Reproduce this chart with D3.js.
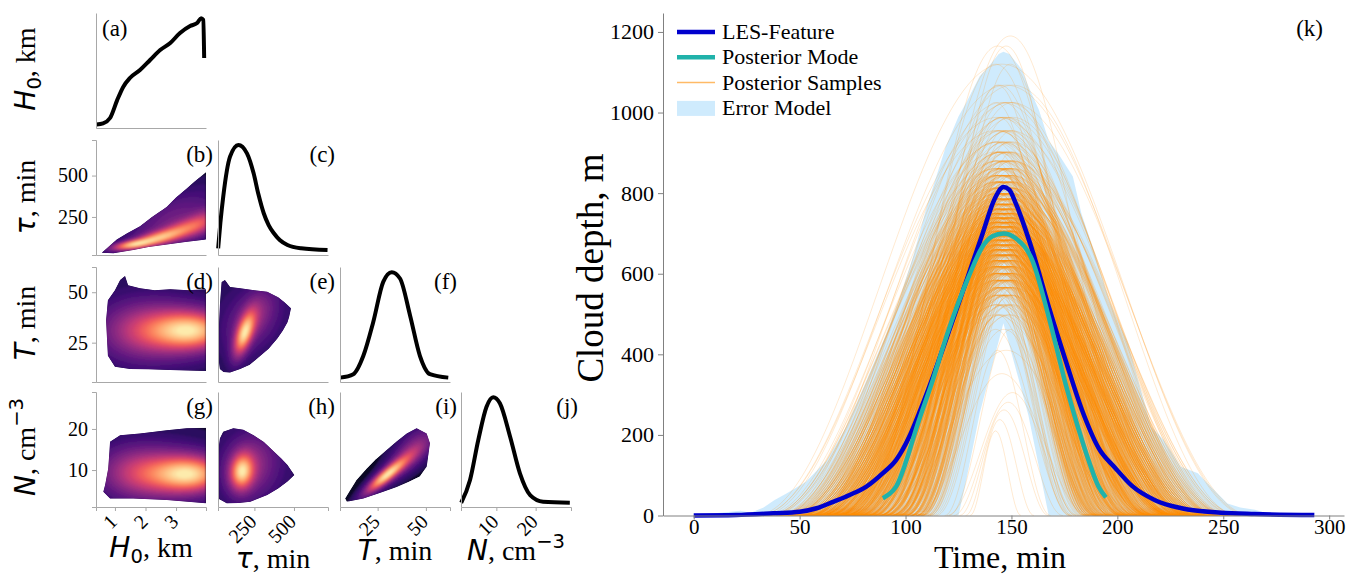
<!DOCTYPE html>
<html>
<head>
<meta charset="utf-8">
<script src="https://cdn.jsdelivr.net/npm/d3@7"></script>
<style>
body { margin: 0; background: #fff; }
svg { display: block; }
text { font-family: "Liberation Serif", "Times New Roman", serif; }
</style>
</head>
<body>
<svg id="fig" width="1349" height="575"></svg>
<script>

// ---------- corner plot: variables ----------
const varDomains = [[0.38, 3.98], [20, 715], [5.5, 62.5], [1, 29]]
const varTicks = [[1, 2, 3], [250, 500], [25, 50], [10, 20]]
const panelLetters = [['a'], ['b', 'c'], ['d', 'e', 'f'], ['g', 'h', 'i', 'j']]

// marginal densities, [value, relative height]
const margH0 = [[0.40, 0.03], [0.61, 0.04], [0.84, 0.087], [1.07, 0.24], [1.27, 0.357], [1.49, 0.435], [1.82, 0.504], [2.15, 0.591], [2.48, 0.678], [2.81, 0.739], [3.13, 0.826], [3.46, 0.887], [3.69, 0.913], [3.82, 0.955], [3.89, 0.94], [3.92, 0.609]]
const margTau = [[21, 0.058], [35, 0.28], [53, 0.507], [96, 0.855], [149, 0.957], [203, 0.884], [245, 0.71], [275, 0.53], [309, 0.363], [340, 0.26], [373, 0.189], [410, 0.13], [459, 0.087], [545, 0.058], [712, 0.043]]
const margT = [[5.6, 0.038], [12.4, 0.068], [17.6, 0.228], [22.7, 0.52], [27.9, 0.871], [32.3, 0.955], [36.6, 0.9], [41.8, 0.579], [46.9, 0.228], [52.1, 0.068], [61.6, 0.038]]
const margN = [[1.05, 0.037], [3.3, 0.235], [5.4, 0.583], [7.5, 0.872], [9.2, 0.955], [10.9, 0.902], [13.5, 0.611], [16.0, 0.293], [18.6, 0.104], [21.9, 0.046], [28.7, 0.037]]

// joint densities: outline of the sampled region and hot spots [cx, cy, sx, sy, rho, weight]
const outlineB = [[0.57, 34], [0.8, 72], [1.06, 113], [1.4, 152], [1.82, 193], [2.2, 248], [2.45, 280], [2.55, 292], [2.70, 312], [3.0, 368], [3.35, 422], [3.6, 462], [3.79, 491], [3.98, 521], [3.98, 113], [3.3, 98], [2.70, 84], [2.1, 68], [1.60, 50], [0.95, 30]]
const blobsB = [[1.5, 80, 0.45, 22, 0.6, 1], [2.3, 118, 0.5, 35, 0.6, 0.85], [3.1, 165, 0.5, 50, 0.6, 0.7], [3.9, 215, 0.45, 65, 0.5, 0.6], [2.8, 250, 1.0, 120, 0.7, 0.3]]

const outlineD = [[0.71, 36], [0.77, 46], [1.0, 51], [1.17, 56], [1.33, 58], [1.43, 53.5], [1.82, 52], [2.3, 51], [2.81, 51.5], [3.4, 51], [3.98, 51.5], [3.98, 11], [3.4, 11.2], [2.81, 11.5], [2.1, 11.8], [1.5, 12], [1.0, 13], [0.77, 18.5], [0.74, 27]]
const blobsD = [[3.7, 31, 0.8, 6.5, 0, 1], [2.7, 31, 0.9, 8, 0, 0.6], [1.6, 31, 0.9, 10, 0, 0.35], [2.5, 31, 1.5, 16, 0, 0.15]]

const outlineE = [[43, 55.1], [64, 56], [96, 52.6], [160, 52], [250, 51], [331, 50.2], [400, 47.5], [438, 45.2], [481, 42], [470, 38], [459, 35.1], [430, 31], [395, 27], [340, 22], [288, 18.5], [220, 14], [160, 12], [96, 10.2], [55, 10.5], [32, 12], [21, 18.5], [24, 30], [32, 43.5]]
const blobsE = [[185, 29, 45, 7.5, 0.6, 1], [250, 38, 90, 9, 0.5, 0.3], [230, 36, 170, 14, 0.2, 0.2]]

const outlineG = [[0.84, 16.9], [1.17, 18.5], [1.82, 18.9], [2.70, 19.7], [3.35, 20.2], [3.98, 20.3], [3.98, 1.9], [2.70, 2.7], [1.60, 3.1], [0.84, 3.1], [0.62, 4.7], [0.68, 6.4], [0.78, 10.4], [0.82, 14.5]]
const blobsG = [[3.6, 9, 0.75, 3, 0, 1], [2.6, 9, 0.9, 3.8, 0, 0.6], [1.5, 9.5, 0.8, 4.5, 0, 0.35], [2.5, 10, 1.5, 6, 0, 0.15]]

const outlineH = [[53, 19.3], [117, 20.2], [180, 19.8], [245, 18.5], [310, 16.8], [373, 14.5], [420, 12.8], [459, 11.2], [502, 8.8], [459, 7.2], [400, 5.5], [331, 3.9], [224, 2.3], [150, 2.0], [75, 1.9], [21, 3.1], [20, 9], [21, 14.5], [32, 17.7]]
const blobsH = [[170, 9.6, 50, 3, 0.1, 1], [220, 11, 110, 5, 0.2, 0.3], [240, 11, 170, 7, 0, 0.2]]

const outlineI = [[9.0, 2.3], [17.6, 3.1], [26, 4.4], [34.9, 5.9], [41, 7.1], [46.9, 8.4], [50.4, 10.8], [52.1, 16.5], [50.4, 18.9], [45.2, 20.2], [40.1, 18.9], [35, 17], [29.7, 14.9], [24, 12.6], [19.3, 10.4], [14, 7.6], [10.7, 5.1], [8.1, 3.1]]
const blobsI = [[28.5, 8.3, 7, 2.8, 0.9, 1], [36, 11, 9, 3.6, 0.85, 0.4], [44, 15.5, 8, 3.8, 0.6, 0.35]]

// ---------- right panel: cloud depth ----------
const lesTime = [0, 20, 37.6, 50, 58, 65.8, 73.6, 81.5, 89.3, 95.6, 101.8, 107, 113, 120, 128.6, 136.4, 142, 146.2, 149, 152, 159.8, 167.6, 175.5, 183.3, 191.1, 199, 206.8, 217.8, 230.3, 249, 264.8, 293]
const lesDepth = [0, 1, 5.5, 9.4, 18, 34, 51, 71.5, 105, 138, 196, 262, 345, 450, 580, 700, 785, 815, 808, 775, 659, 518, 386, 262, 168, 118, 74, 38, 18, 7, 3.7, 1]

const modeTime = [89.3, 92, 95.6, 100, 105, 112.8, 120, 130, 136.3, 141, 146.2, 152, 159.8, 167.6, 175.5, 183.3, 187, 191.1, 194.6]
const modeDepth = [43, 52, 72, 130, 215, 335, 455, 595, 667, 693, 700, 688, 634, 493, 328, 187, 128, 72, 45]

const bandTime = [0, 5, 9, 15, 22, 27, 33, 38, 44, 53, 63, 72, 81, 91, 97, 104, 110, 119, 125, 128.5, 135, 138, 144, 146.2, 149, 155, 158, 163, 167.6, 172, 179, 183, 190, 196, 205, 216, 222, 230, 238, 244, 252, 258, 265, 271, 275]
const bandUpper = [0, 2, 5, 8, 12, 7, 20, 38, 55, 84, 138, 220, 328, 452, 535, 650, 766, 915, 990, 1023, 1090, 1106, 1145, 1151, 1145, 1106, 1065, 1006, 930, 899, 841, 750, 640, 535, 427, 220, 187, 121, 105, 72, 30, 20, 14, 5, 0]
const bandLower = [0, 0, 0, 0, 0, 0, 0, 0, 0, 0, 0, 0, 0, 0, 0, 0, 0, 0, 0, 83, 253, 313, 433, 477, 423, 307, 249, 120, 0, 0, 0, 0, 0, 0, 0, 0, 0, 0, 0, 0, 0, 0, 0, 0, 0]

// posterior samples: peak depth, half duration and how many samples look alike
const samplePeak = [210, 238, 262, 281, 305, 352, 410, 462, 498, 523, 547, 566, 584, 601, 618, 633, 647, 660, 672, 684, 695, 706, 717, 728, 739, 750, 761, 773, 786, 799, 813, 828, 844, 861, 880, 902, 927, 955, 988, 1025, 1068, 1120, 1165, 1190]
const sampleHalfBase = [24, 26, 28, 30, 33, 40, 50, 58, 62, 66, 70, 72, 74, 76, 78, 80, 81, 82, 83, 84, 85, 86, 87, 88, 89, 90, 91, 92, 93, 94, 95, 96, 97, 98, 99, 100, 101, 102, 103, 104, 105, 106, 107, 108]
const sampleCopies = [1, 1, 1, 1, 1, 1, 2, 3, 6, 10, 15, 19, 24, 27, 30, 30, 30, 30, 30, 30, 30, 30, 30, 30, 30, 30, 27, 27, 25, 25, 22, 22, 19, 18, 15, 13, 10, 9, 7, 6, 4, 3, 2, 1]
const sampleSpread = [0.5, 0.62, 0.75, 0.86, 0.94, 1.02, 1.1]
const sampleShift = [-4, -2, 0, 2, 4, -1, 1, 3, -3]
const samplePeakTime = 146.5

const legendNames = ['LES-Feature', 'Posterior Mode', 'Posterior Samples', 'Error Model']
const depthTicks = [0, 200, 400, 600, 800, 1000, 1200]
const timeTicks = [0, 50, 100, 150, 200, 250, 300]


const fig = d3.select('#fig')
const serif = '"Liberation Serif", "Times New Roman", serif'

// ---------- corner plot ----------
const cornerX = [96, 218, 340, 461]
const cornerY = [13, 140, 267, 392]
const cellW = 110, cellH = 115

const colScale = j => d3.scaleLinear().domain(varDomains[j]).range([cornerX[j], cornerX[j] + cellW])
const rowScale = i => d3.scaleLinear().domain(varDomains[i]).range([cornerY[i] + cellH, cornerY[i]])
const diagScale = i => d3.scaleLinear().domain([0, 1]).range([cornerY[i] + cellH, cornerY[i]])

const defs = fig.append('defs')
defs.append('filter').attr('id', 'soft')
    .append('feGaussianBlur').attr('stdDeviation', 0.9)

const densityPanels = [
    { row: 1, col: 0, outline: outlineB, blobs: blobsB },
    { row: 2, col: 0, outline: outlineD, blobs: blobsD },
    { row: 2, col: 1, outline: outlineE, blobs: blobsE },
    { row: 3, col: 0, outline: outlineG, blobs: blobsG },
    { row: 3, col: 1, outline: outlineH, blobs: blobsH },
    { row: 3, col: 2, outline: outlineI, blobs: blobsI }
]

densityPanels.forEach((p, k) => {
    const xs = colScale(p.col), ys = rowScale(p.row)
    const x0 = cornerX[p.col], y0 = cornerY[p.row]

    const values = new Float64Array(cellW * cellH)
    for (let r = 0; r < cellH; r++) {
        for (let c = 0; c < cellW; c++) {
            const x = xs.invert(x0 + c + 0.5), y = ys.invert(y0 + r + 0.5)
            let s = 0
            p.blobs.forEach(([cx, cy, sx, sy, rho, w]) => {
                const dx = (x - cx) / sx, dy = (y - cy) / sy
                s += w * Math.exp(-(dx * dx - 2 * rho * dx * dy + dy * dy) / (2 * (1 - rho * rho)))
            })
            values[c + r * cellW] = s
        }
    }
    const mx = d3.max(values)
    for (let q = 0; q < values.length; q++) values[q] /= mx

    const outlinePts = p.outline.map(d => [xs(d[0]), ys(d[1])])
    const outlinePath = d3.line().curve(d3.curveLinearClosed)(outlinePts)

    defs.append('clipPath').attr('id', 'clip' + k)
        .append('path').attr('d', outlinePath)

    const g = fig.append('g').attr('clip-path', `url(#clip${k})`)
    g.append('path').attr('d', outlinePath).attr('fill', d3.interpolateMagma(0.07))

    const levels = d3.range(0.02, 1, 0.035)
    const contours = d3.contours().size([cellW, cellH]).thresholds(levels)(values)
    const path = d3.geoPath(d3.geoIdentity().translate([x0, y0]))

    g.append('g').attr('filter', 'url(#soft)')
        .selectAll('path')
        .data(contours)
        .enter()
        .append('path')
        .attr('d', path)
        .attr('fill', d => d3.interpolateMagma(0.15 + 0.84 * d.value))
})

// marginals on the diagonal
const marginals = [margH0, margTau, margT, margN]
marginals.forEach((pts, k) => {
    const xs = colScale(k), ys = diagScale(k)
    fig.append('path').datum(pts)
        .attr('d', d3.line().x(d => xs(d[0])).y(d => ys(d[1])).curve(d3.curveMonotoneX))
        .attr('fill', 'none')
        .attr('stroke', '#000')
        .attr('stroke-width', 4)
        .attr('stroke-linejoin', 'round')
})

// spines and ticks
for (let i = 0; i < 4; i++) {
    for (let j = 0; j <= i; j++) {
        const g = fig.append('g').attr('class', 'corner-axis')
        const ys = i === j ? diagScale(i) : rowScale(i)
        const xs = colScale(j)

        const left = d3.axisLeft(ys).tickSizeOuter(0).tickFormat(d3.format('d'))
        if (j === 0 && i > 0) left.tickValues(varTicks[i]).tickSize(4).tickPadding(4)
        else left.tickValues([])
        g.append('g').attr('transform', `translate(${cornerX[j]},0)`).call(left)

        const bottom = d3.axisBottom(xs).tickSizeOuter(0).tickFormat(d3.format('d'))
        if (i === 3) bottom.tickValues(varTicks[j]).tickSize(4)
        else bottom.tickValues([])
        const gb = g.append('g').attr('transform', `translate(0,${cornerY[i] + cellH})`).call(bottom)
        if (i === 3) {
            gb.selectAll('.tick text')
                .attr('y', 0)
                .attr('dy', '0.35em')
                .attr('text-anchor', 'end')
                .attr('transform', 'translate(-2,11) rotate(-45)')
        }

        // panel letter
        const letter = '(' + panelLetters[i][j] + ')'
        if (i === 0) {
            fig.append('text').attr('x', cornerX[0] + 6).attr('y', cornerY[0] + 23)
                .attr('font-size', 23).text(letter)
        } else {
            fig.append('text').attr('x', cornerX[j] + cellW + 7).attr('y', cornerY[i] + 22)
                .attr('text-anchor', 'end').attr('font-size', 23).text(letter)
        }
    }
}

fig.selectAll('.corner-axis g').attr('font-size', 20)
fig.selectAll('.corner-axis text').style('font-family', serif).attr('fill', '#000')
fig.selectAll('.corner-axis path.domain, .corner-axis line').attr('stroke', '#a8a8a8')

// axis labels with math parts
const varLabels = [
    [{ t: 'H', math: true }, { t: '0', sub: true }, { t: ', km', back: true }],
    [{ t: 'τ', math: true }, { t: ', min' }],
    [{ t: 'T', math: true }, { t: ', min' }],
    [{ t: 'N', math: true }, { t: ', cm' }, { t: '−3', sup: true }]
]

function richText(sel, parts, size) {
    parts.forEach(p => {
        const s = sel.append('tspan').text(p.t)
        if (p.math) s.attr('font-family', 'DejaVu Sans').attr('font-style', 'italic')
        if (p.sub) s.attr('font-family', 'DejaVu Sans').attr('font-size', size * 0.7).attr('dy', size * 0.2)
        if (p.back) s.attr('dy', -size * 0.2)
        if (p.sup) s.attr('font-family', 'DejaVu Sans').attr('font-size', size * 0.7).attr('dy', -size * 0.42)
    })
}

const yLabelCentres = [69, 197, 323, 447]
varLabels.forEach((parts, i) => {
    const t = fig.append('text')
        .attr('transform', `translate(35,${yLabelCentres[i]}) rotate(-90)`)
        .attr('text-anchor', 'middle')
        .attr('font-size', 28)
    richText(t, parts, 28)
})

const xLabelBase = [557, 568, 560, 560]
varLabels.forEach((parts, j) => {
    const t = fig.append('text')
        .attr('x', cornerX[j] + cellW / 2)
        .attr('y', xLabelBase[j])
        .attr('text-anchor', 'middle')
        .attr('font-size', 28)
    richText(t, parts, 28)
})


// ---------- right panel ----------
const x = d3.scaleLinear().domain([-14.5, 307]).range([663, 1344])
const y = d3.scaleLinear().domain([0, 1247]).range([515.5, 13])

const bandData = bandTime.map((t, k) => ({ t: t, lo: bandLower[k], hi: bandUpper[k] }))
fig.append('path').datum(bandData)
    .attr('d', d3.area().x(d => x(d.t)).y0(d => y(d.lo)).y1(d => y(d.hi)))
    .attr('fill', '#87cefa')
    .attr('fill-opacity', 0.4)

// posterior sample curves
const samples = []
samplePeak.forEach((h, i) => {
    for (let c = 0; c < sampleCopies[i]; c++) {
        const L = sampleHalfBase[i] * sampleSpread[(c + i) % sampleSpread.length]
        const tc = samplePeakTime + sampleShift[(2 * c + i) % sampleShift.length]
        const pts = []
        for (let t = tc - L; t <= tc + L + 0.01; t += 0.75) {
            const u = Math.cos(Math.PI * (t - tc) / (2 * L))
            pts.push([t, h * u * u])
        }
        pts.push([tc + L, 0])
        samples.push(pts)
    }
})

const sampleLine = d3.line().x(d => x(d[0])).y(d => y(d[1]))
fig.append('g')
    .selectAll('path')
    .data(samples)
    .enter()
    .append('path')
    .attr('d', sampleLine)
    .attr('fill', 'none')
    .attr('stroke', '#ff8c00')
    .attr('stroke-opacity', 0.18)
    .attr('stroke-width', 1)

const depthLine = d3.line().x(d => x(d[0])).y(d => y(d[1])).curve(d3.curveMonotoneX)

fig.append('path').datum(lesTime.map((t, k) => [t, lesDepth[k]]))
    .attr('d', depthLine)
    .attr('fill', 'none')
    .attr('stroke', '#0000cd')
    .attr('stroke-width', 4.5)
    .attr('stroke-linejoin', 'round')

fig.append('path').datum(modeTime.map((t, k) => [t, modeDepth[k]]))
    .attr('d', depthLine)
    .attr('fill', 'none')
    .attr('stroke', '#20b2aa')
    .attr('stroke-width', 4.5)
    .attr('stroke-linejoin', 'round')

fig.append('g').attr('class', 'main-axis')
    .attr('transform', 'translate(663,0)')
    .call(d3.axisLeft(y).tickValues(depthTicks).tickFormat(d3.format('d')).tickSize(5).tickPadding(4).tickSizeOuter(0))
fig.append('g').attr('class', 'main-axis x-main')
    .attr('transform', 'translate(0,515.5)')
    .call(d3.axisBottom(x).tickValues(timeTicks).tickFormat(d3.format('d')).tickSize(4).tickPadding(0).tickSizeOuter(0))

fig.selectAll('.main-axis').attr('font-size', 22)
fig.selectAll('.x-main').attr('font-size', 21)
fig.selectAll('.main-axis text').style('font-family', serif).attr('fill', '#000')
fig.selectAll('.main-axis path.domain, .main-axis line').attr('stroke', '#808080')

fig.append('text')
    .attr('transform', 'translate(603,268) rotate(-90)')
    .attr('text-anchor', 'middle')
    .attr('font-size', 37)
    .text('Cloud depth, m')

fig.append('text')
    .attr('x', 1000)
    .attr('y', 568)
    .attr('text-anchor', 'middle')
    .attr('font-size', 32)
    .text('Time, min')

fig.append('text')
    .attr('x', 1323)
    .attr('y', 36)
    .attr('text-anchor', 'end')
    .attr('font-size', 23)
    .text('(k)')

// legend
const legend = fig.append('g').attr('transform', 'translate(677,32)')
legendNames.forEach((name, k) => {
    const row = legend.append('g').attr('transform', `translate(0,${k * 25.3})`)
    if (k === 0) row.append('line').attr('x2', 38).attr('stroke', '#0000cd').attr('stroke-width', 4.5)
    if (k === 1) row.append('line').attr('x2', 38).attr('stroke', '#20b2aa').attr('stroke-width', 4.5)
    if (k === 2) row.append('line').attr('x2', 38).attr('stroke', '#ff8c00').attr('stroke-opacity', 0.6).attr('stroke-width', 1.5)
    if (k === 3) row.append('rect').attr('y', -7).attr('width', 38).attr('height', 15).attr('fill', '#87cefa').attr('fill-opacity', 0.4)
    row.append('text').attr('x', 45).attr('y', 7).attr('font-size', 22).text(name)
})

</script>
</body>
</html>
